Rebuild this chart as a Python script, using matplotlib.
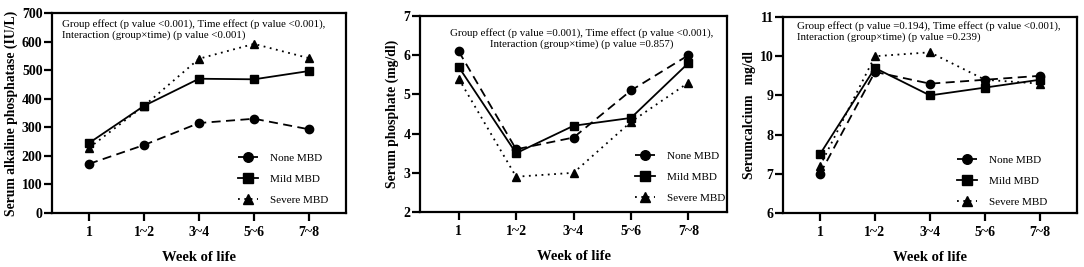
import matplotlib
matplotlib.use("Agg")
import matplotlib.pyplot as plt

plt.rcParams['font.family'] = ['Liberation Serif', 'DejaVu Serif']

weeks = ['1', '1~2', '3~4', '5~6', '7~8']
groups = ['None MBD', 'Mild MBD', 'Severe MBD']

alp_none = [172, 238, 315, 330, 293]
alp_mild = [245, 375, 470, 468, 497]
alp_severe = [228, 375, 540, 592, 542]

phos_none = [6.1, 3.6, 3.9, 5.1, 6.0]
phos_mild = [5.7, 3.5, 4.2, 4.4, 5.8]
phos_severe = [5.4, 2.9, 3.0, 4.3, 5.3]

ca_none = [7.0, 9.6, 9.3, 9.4, 9.5]
ca_mild = [7.5, 9.7, 9.0, 9.2, 9.4]
ca_severe = [7.2, 10.0, 10.1, 9.4, 9.3]

styles = [
    dict(linestyle=(0, (5, 3)), marker='o'),
    dict(linestyle='-', marker='s'),
    dict(linestyle=(0, (1, 2.5)), marker='^'),
]

panels = [
    dict(rect=[0.048, 0.2022, 0.2712, 0.749], data=[alp_none, alp_mild, alp_severe],
         ylim=(0, 700), yticks=range(0, 701, 100),
         ylabel='Serum alkaline phosphatase (IU/L)',
         note='Group effect (p value <0.001), Time effect (p value <0.001),\nInteraction (group\u00d7time) (p value <0.001)',
         note_xy=(0.034, 0.972), note_ha='left',
         leg_anchor=(0.633, 0.30)),
    dict(rect=[0.3875, 0.206, 0.2832, 0.734], data=[phos_none, phos_mild, phos_severe],
         ylim=(2, 7), yticks=range(2, 8),
         ylabel='Serum phosphate (mg/dl)',
         note='Group effect (p value =0.001), Time effect (p value <0.001),\nInteraction (group\u00d7time) (p value =0.857)',
         note_xy=(0.528, 0.94), note_ha='center',
         leg_anchor=(0.70, 0.31)),
    dict(rect=[0.7223, 0.2022, 0.2712, 0.734], data=[ca_none, ca_mild, ca_severe],
         ylim=(6, 11), yticks=range(6, 12),
         ylabel='Serumcalcium   mg/dl',
         note='Group effect (p value =0.194), Time effect (p value <0.001),\nInteraction (group\u00d7time) (p value =0.239)',
         note_xy=(0.048, 0.98), note_ha='left',
         leg_anchor=(0.592, 0.295)),
]

fig = plt.figure(figsize=(10.84, 2.67), dpi=100)

for p in panels:
    ax = fig.add_axes(p['rect'])
    x = range(len(weeks))
    for vals, name, st in zip(p['data'], groups, styles):
        ax.plot(x, vals, color='black', linewidth=1.3, markersize=6,
                label=name, **st)
    ax.set_xlim(-0.673, 4.673)
    ax.set_ylim(*p['ylim'])
    ax.set_yticks(list(p['yticks']))
    ax.set_xticks(list(x))
    ax.set_xticklabels(weeks)
    for lab in ax.get_xticklabels() + ax.get_yticklabels():
        lab.set_fontweight('bold')
        lab.set_fontsize(10)
    ax.tick_params(direction='out', width=1.6, length=5.8, pad=1)
    ax.tick_params(axis='x', pad=3.5)
    for s in ax.spines.values():
        s.set_linewidth(1.6)
    ax.set_xlabel('Week of life', fontsize=10.5, fontweight='bold', labelpad=9)
    ax.set_ylabel(p['ylabel'], fontsize=9.8, fontweight='bold', labelpad=3)
    ax.text(p['note_xy'][0], p['note_xy'][1], p['note'], transform=ax.transAxes,
            ha=p['note_ha'], va='top', fontsize=7.8, linespacing=1.2)
    ax.legend(loc='upper left', bbox_to_anchor=p['leg_anchor'], frameon=False,
              fontsize=8, handlelength=1.8, labelspacing=1.0, handletextpad=1.1,
              borderpad=0, borderaxespad=0, markerscale=1.15)

fig.savefig('out.png', dpi=100)
